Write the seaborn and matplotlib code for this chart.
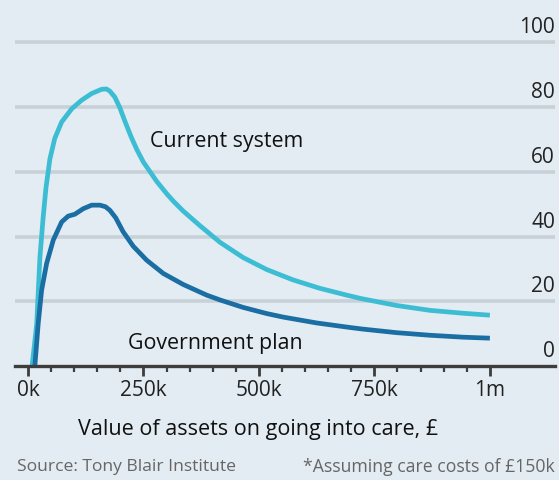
import numpy as np
import pandas as pd
import matplotlib
matplotlib.use('Agg')
import matplotlib.pyplot as plt
import seaborn as sns

# ─────────────────────────────────────────────
# DATA  (assets in £k, share of assets lost, %)
# ─────────────────────────────────────────────
current_x = [9, 19, 26, 33, 39, 47.6, 58, 73, 95, 116, 138, 159.5, 170, 177.5,
             188, 199, 210, 224, 236, 250, 279, 300, 315, 336, 372, 416, 466,
             517, 574, 632, 690, 719, 798, 870, 942, 1000]
current_y = [0, 13, 33.7, 46, 55, 64, 70.3, 75.4, 79.5, 82.1, 84.2, 85.5, 85.6,
             84.9, 83.1, 79.8, 75.6, 70.6, 66.8, 63.0, 57.0, 53.3, 50.9, 47.9,
             43.4, 38.2, 33.5, 29.8, 26.6, 24.0, 21.9, 20.9, 18.7, 17.2, 16.3, 15.7]

gov_x = [15, 22.3, 29.7, 40.5, 54.8, 73, 87, 101.7, 119.7, 138, 156, 168,
         177.5, 190, 206, 228, 257, 293, 336, 387, 416, 466, 517, 553, 625,
         697, 725, 798, 870, 942, 1000]
gov_y = [0, 13.2, 23.5, 31.7, 38.9, 44.5, 46.3, 46.9, 48.6, 49.7, 49.7, 49.2,
         48.1, 45.8, 41.5, 37, 32.7, 28.6, 25.2, 21.9, 20.4, 18.1, 16.2, 15.1,
         13.3, 11.9, 11.4, 10.3, 9.5, 8.9, 8.6]

x_ticks = [0, 250, 500, 750, 1000]
x_labels = ['0k', '250k', '500k', '750k', '1m']
y_ticks = [0, 20, 40, 60, 80, 100]

df = pd.concat([
    pd.DataFrame({'assets': current_x, 'pct': current_y, 'series': 'Current system'}),
    pd.DataFrame({'assets': gov_x, 'pct': gov_y, 'series': 'Government plan'}),
])

# ─────────────────────────────────────────────
# STYLE
# ─────────────────────────────────────────────
sns.set_style('white')
plt.rcParams['font.family'] = ['Open Sans', 'DejaVu Sans']
bg = '#e2ecf2'
palette = {'Current system': '#3cbdd3', 'Government plan': '#1a6ea3'}

fig = plt.figure(figsize=(5.59, 4.80), dpi=100)
fig.patch.set_facecolor(bg)
ax = fig.add_axes([15/559, 114/480, 540/559, 356/480])
ax.set_facecolor(bg)

ax.set_yticks(y_ticks[1:])
ax.yaxis.grid(True, color='#c8d1d8', lw=2.6)
ax.set_axisbelow(True)

sns.lineplot(data=df, x='assets', y='pct', hue='series', palette=palette,
             lw=3.4, legend=False, ax=ax, sort=False, estimator=None)
for ln in ax.lines:
    ln.set_clip_on(False)
    ln.set_solid_capstyle('butt')
    ln.set_solid_joinstyle('round')

ax.set_xlim(-28, 1141)
ax.set_ylim(0, 110)

for s in ['top', 'left', 'right']:
    ax.spines[s].set_visible(False)
ax.spines['bottom'].set_color('#3d3d3d')
ax.spines['bottom'].set_linewidth(2.4)
ax.spines['bottom'].set_zorder(5)

ax.set_xticks(x_ticks)
ax.set_xticklabels(x_labels, fontsize=15, color='#222222')
ax.set_xticks(np.arange(0, 1001, 50), minor=True)
ax.tick_params(axis='x', which='major', direction='out', length=7, width=2,
               color='#3d3d3d', pad=3, bottom=True)
ax.tick_params(axis='x', which='minor', direction='out', length=4.5, width=1.6,
               color='#3d3d3d', bottom=True)
ax.tick_params(axis='y', left=False, labelleft=False)
ax.set_xlabel('')
ax.set_ylabel('')

ytr = ax.get_yaxis_transform()
for v in y_ticks:
    ax.text(1.0, v + 1.2, str(v), transform=ytr, ha='right', va='bottom',
            fontsize=15, color='#222222')

ax.text(150/559, (480-142)/480, 'Current system', transform=fig.transFigure,
        ha='left', va='center', fontsize=15.4, color='#111111')
ax.text(128/559, (480-344)/480, 'Government plan', transform=fig.transFigure,
        ha='left', va='center', fontsize=15.4, color='#111111')

fig.text(258/559, (480-430)/480, 'Value of assets on going into care, £',
         ha='center', va='center', fontsize=15.5, color='#111111')
fig.text(17/559, (480-467)/480, 'Source: Tony Blair Institute',
         ha='left', va='center', fontsize=12.6, color='#666666')
fig.text(555/559, (480-467)/480, '*Assuming care costs of £150k',
         ha='right', va='center', fontsize=12.7, color='#666666')

plt.savefig('out.png', dpi=100, facecolor=bg)
